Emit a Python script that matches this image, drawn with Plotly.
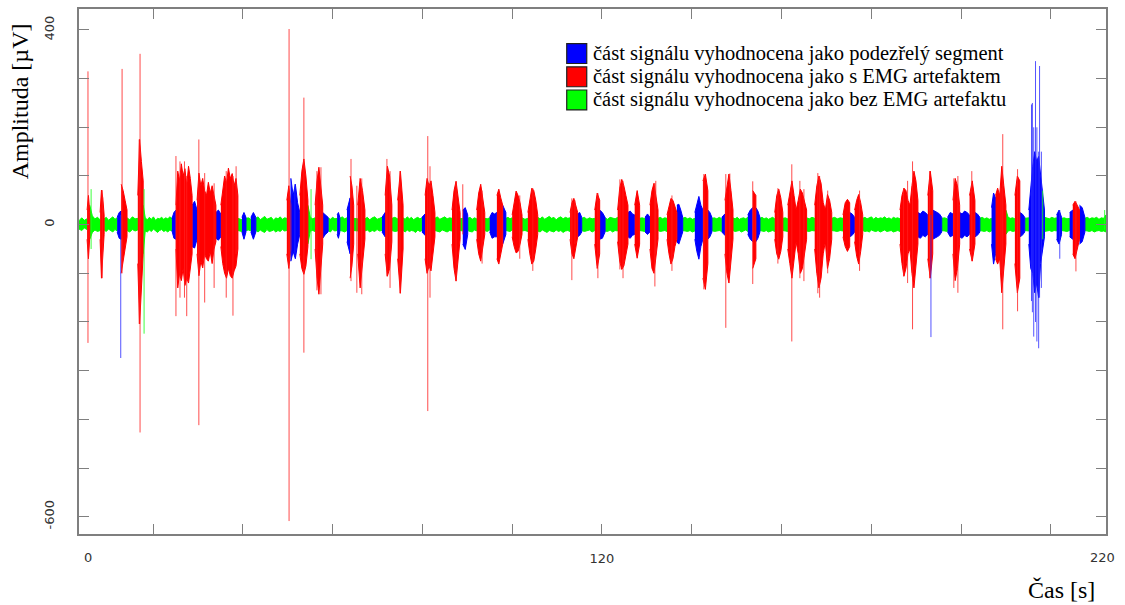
import plotly.graph_objects as go

# ---- data (time in axis units, amplitude in uV) ----
# contiguous signal segments: start time, class, upper / lower envelope of the dense trace
seg_start = [3.5, 5.3, 5.9, 8.2, 9.1, 12.0, 12.9, 14.2, 16.6, 17.8,
             24.2, 25.1, 28.7, 29.8, 34.0, 35.1, 38.9, 39.8, 40.7, 41.8,
             42.9, 49.8, 50.7, 52.7, 54.5, 56.1, 57.8, 59.0, 61.0, 61.6,
             63.2, 63.9, 64.7, 65.6, 67.2, 71.0, 71.7, 73.2, 74.5, 75.7,
             79.9, 80.6, 82.8, 86.6, 88.4, 89.0, 90.1, 92.1, 93.9, 95.0,
             96.6, 97.9, 98.6, 100.0, 102.2, 103.5, 105.7, 112.9, 114.6, 115.5,
             118.4, 119.5, 120.7, 123.5, 125.8, 127.3, 128.4, 129.6, 130.7, 132.5,
             134.5, 136.7, 138.0, 140.7, 142.5, 143.6, 144.5, 146.7, 147.4, 149.2,
             152.5, 153.6, 154.3, 155.2, 158.5, 160.3, 161.4, 165.6, 167.4, 171.2,
             173.7, 175.2, 176.3, 178.1, 186.4, 190.4, 192.6, 193.7, 195.7, 197.0,
             198.2, 199.7, 201.9, 203.1, 204.2, 206.8, 207.7, 210.0, 212.0, 213.1,
             214.2, 215.1, 218.6, 221.3, 222.4, 224.2, 224.9, 226.4, 227.6]
t_end = 232.3

seg_class = ["G", "R", "G", "R", "G", "B", "R", "G", "R", "G",
             "B", "R", "B", "R", "B", "R", "G", "B", "G", "B",
             "G", "R", "B", "R", "G", "R", "B", "G", "B", "G",
             "B", "R", "G", "R", "G", "B", "R", "G", "R", "G",
             "B", "R", "G", "R", "G", "B", "G", "R", "G", "B",
             "R", "B", "G", "R", "G", "R", "G", "R", "B", "G",
             "R", "B", "G", "R", "B", "R", "G", "B", "R", "G",
             "R", "B", "G", "B", "R", "B", "G", "B", "R", "G",
             "B", "R", "B", "G", "R", "G", "R", "G", "R", "G",
             "R", "B", "R", "G", "R", "B", "R", "B", "G", "B",
             "R", "B", "R", "B", "G", "B", "R", "G", "R", "B",
             "G", "B", "G", "B", "G", "B", "R", "B", "G"]

seg_upper = [
    [8, 14, 9, 12], [30, 60, 25], [40, 18, 12, 15, 10], [25, 71, 55, 20],
    [12, 15, 9, 13, 16, 11, 14],
    [15, 25, 28], [83, 70, 50, 30], [14, 10, 16, 12, 13], [60, 175, 130, 90],
    [40, 14, 10, 15, 11, 16, 9, 13, 12, 15, 11, 14, 12, 16, 13],
    [12, 25, 30], [40, 110, 90, 125, 100, 115, 80, 120, 95, 60], [40, 48, 30],
    [50, 106, 80, 95, 70, 60, 87, 65, 80, 55, 40], [25, 30, 22],
    [40, 70, 100, 85, 116, 95, 105, 80, 95, 60],
    [13, 10], [15, 25, 15], [13, 14, 11], [15, 25, 15],
    [13, 16, 10, 14, 17, 11, 13, 15, 9, 14, 12, 16, 11, 14, 13],
    [50, 80, 40], [95, 60, 83, 45, 25], [60, 110, 135, 100, 50], [40, 15, 12, 14],
    [40, 90, 118, 80, 40],
    [25, 20, 15], [14, 11, 15, 12, 13], [20, 25, 15], [13, 16, 12, 14],
    [30, 55], [100, 80, 40], [13, 12], [40, 95, 70, 30], [12, 15, 10, 14, 16, 11, 13, 15],
    [15, 25], [60, 120, 100, 40], [13, 15, 12], [50, 110, 40],
    [14, 11, 16, 12, 15, 10, 13, 15, 12, 14],
    [15, 22], [60, 95, 80, 90, 60, 25], [13, 16, 11, 14, 16, 12, 14, 13],
    [30, 70, 89, 60, 25], [12, 13],
    [30, 35, 20], [13, 15, 11, 14, 12], [30, 65, 83, 55, 25], [13, 12, 14], [15, 25, 22, 25],
    [60, 73, 55, 40], [40, 25], [13, 15, 12, 14], [20, 50, 69, 60, 45, 20], [14, 11, 13],
    [25, 55, 75, 70, 50, 20],
    [15, 12, 16, 11, 14, 17, 13, 15, 10, 14, 16, 12, 15, 13, 14],
    [25, 45, 54, 40, 25], [22, 25, 15], [13, 15, 11, 14, 12, 13],
    [30, 65, 50], [30, 25, 15], [14, 11, 15, 13, 12, 15], [30, 75, 93, 80, 60, 40],
    [25, 28, 22, 20],
    [40, 70, 40], [13, 14, 12], [15, 22, 15], [40, 70, 85, 60, 30], [13, 15, 12, 14, 13],
    [20, 40, 54, 50, 35, 25], [40, 42, 30, 15], [13, 15, 12, 14, 11, 13],
    [25, 45, 58, 40, 30], [90, 104, 70],
    [30, 25, 15], [13, 14, 12, 15, 12], [15, 22], [50, 80, 104, 70, 30],
    [14, 12, 15, 11, 13, 14, 12, 15],
    [20, 30, 35], [70, 60], [35, 28, 15], [13, 15, 12, 14, 11, 13, 15, 12],
    [25, 60, 73, 55, 25],
    [13, 14, 12], [40, 70, 90, 60, 30, 50, 73, 65, 50, 30], [14, 12, 15, 13],
    [40, 80, 100, 85, 45, 30, 62, 50, 25], [13, 15, 12, 14, 13],
    [20, 45, 52, 45], [25, 22, 15], [30, 50, 62, 45, 20],
    [13, 15, 12, 14, 16, 11, 15, 12, 14, 13, 16, 12, 14, 11, 15, 13, 14, 12],
    [30, 60, 75, 70, 50, 40, 80, 110, 90, 50], [25, 22, 28, 25, 20], [60, 110, 70],
    [30, 28, 25, 22, 15], [13, 14, 12], [15, 25, 22],
    [50, 95, 80, 40], [25, 22, 28, 25, 20], [60, 90, 50], [25, 22, 15], [13, 15, 12, 14, 11, 13],
    [35, 65, 55], [60, 75, 60, 120, 80, 40], [30, 15, 13, 14, 12], [60, 100, 90], [25, 22, 15],
    [13, 14], [30, 80, 120, 150, 130, 140, 100, 60, 30], [15, 14, 12, 15, 13, 14], [20, 30, 15],
    [13, 14, 12, 13],
    [25, 30], [40, 48, 40, 30], [40, 35, 15], [13, 15, 12, 14, 13, 15, 11, 14, 13, 20],
]

seg_lower = [
    [-9, -12, -7, -10], [-30, -70, -25], [-30, -16, -11, -14, -12], [-30, -110, -70, -20],
    [-11, -14, -9, -12, -15, -10, -13],
    [-15, -28, -30], [-100, -80, -50, -25], [-12, -15, -10, -13, -11], [-80, -204, -120, -60],
    [-60, -13, -15, -11, -14, -9, -13, -16, -12, -10, -14, -12, -15, -11, -13],
    [-12, -28, -30], [-50, -130, -100, -115, -90, -125, -110, -120, -85, -60], [-45, -48, -30],
    [-60, -105, -75, -89, -60, -70, -75, -55, -80, -50, -35], [-28, -32, -25],
    [-45, -80, -100, -110, -90, -105, -110, -95, -85, -50],
    [-12, -14], [-15, -30, -15], [-12, -11, -13], [-15, -30, -15],
    [-12, -15, -11, -14, -16, -10, -14, -13, -11, -15, -12, -14, -10, -13, -12],
    [-60, -90, -50], [-75, -55, -70, -40, -20], [-60, -90, -102, -85, -45], [-40, -13, -12, -14],
    [-50, -110, -143, -90, -40],
    [-28, -20, -15], [-12, -15, -10, -13, -12], [-20, -28, -15], [-12, -13, -15, -12],
    [-35, -60], [-110, -85, -40], [-12, -13], [-60, -130, -80, -30],
    [-13, -11, -15, -12, -14, -10, -13, -12],
    [-15, -25], [-60, -106, -90, -35], [-12, -14, -13], [-70, -141, -50],
    [-12, -15, -11, -14, -12, -13, -16, -11, -14, -12],
    [-15, -22], [-70, -100, -85, -95, -60, -25], [-12, -14, -15, -11, -13, -15, -12, -13],
    [-40, -90, -116, -70, -30], [-12, -13],
    [-40, -51, -20], [-12, -14, -15, -11, -13], [-30, -60, -75, -50, -20], [-12, -14, -11],
    [-15, -28, -25, -25],
    [-70, -81, -60, -40], [-40, -20], [-12, -13, -14, -11], [-25, -45, -58, -55, -40, -20],
    [-13, -12, -14],
    [-30, -60, -81, -75, -50, -20],
    [-13, -15, -11, -14, -16, -12, -13, -15, -11, -14, -12, -16, -13, -12, -14],
    [-30, -60, -70, -45, -25], [-25, -22, -15], [-12, -14, -13, -11, -15, -12],
    [-40, -90, -60], [-30, -28, -15], [-13, -14, -11, -15, -12, -13], [-35, -75, -92, -85, -60, -40],
    [-25, -28, -22, -20],
    [-40, -69, -40], [-12, -13, -14], [-15, -20, -15], [-50, -90, -100, -70, -30],
    [-12, -14, -13, -12, -14],
    [-30, -60, -81, -70, -45, -30], [-35, -40, -30, -15], [-12, -13, -14, -12, -15, -13],
    [-30, -55, -71, -45, -30], [-110, -133, -80],
    [-30, -25, -15], [-12, -14, -13, -12, -14], [-15, -22], [-60, -100, -120, -80, -30],
    [-12, -14, -13, -12, -15, -13, -11, -14],
    [-20, -30, -35], [-90, -70], [-35, -28, -15], [-12, -13, -14, -12, -15, -13, -12, -14],
    [-30, -60, -71, -55, -25],
    [-12, -13, -14], [-50, -80, -110, -70, -35, -60, -100, -90, -60, -30], [-13, -14, -12, -13],
    [-50, -100, -130, -110, -60, -35, -90, -70, -30], [-12, -13, -14, -12, -13],
    [-25, -45, -55, -45], [-25, -22, -15], [-35, -65, -81, -55, -20],
    [-12, -14, -13, -15, -11, -13, -14, -12, -15, -13, -11, -14, -13, -12, -15, -13, -12, -14],
    [-40, -80, -106, -90, -60, -50, -100, -130, -90, -40], [-25, -28, -22, -25, -20],
    [-70, -110, -60],
    [-30, -28, -25, -22, -15], [-12, -13, -14], [-15, -25, -22],
    [-60, -115, -90, -40], [-25, -28, -22, -25, -20], [-50, -75, -40], [-25, -22, -15],
    [-12, -13, -14, -12, -15, -13],
    [-40, -81, -60], [-70, -81, -70, -140, -90, -40], [-20, -13, -12, -14, -13], [-80, -140, -110],
    [-25, -22, -15],
    [-12, -13], [-40, -90, -100, -140, -120, -150, -80, -50, -25], [-14, -13, -12, -14, -12, -13],
    [-30, -40, -20], [-12, -13, -14, -12],
    [-25, -30], [-60, -70, -50, -30], [-40, -35, -15], [-12, -13, -14, -12, -15, -13, -12, -14, -13, -15],
]

# isolated thin spikes: time, class, maximum, minimum
spike_t = [5.5, 6.2, 8.7, 12.8, 13.1, 16.9, 17.1, 18.0, 25.1, 26.0,
           27.0, 27.5, 30.2, 31.5, 33.6, 36.3, 37.8, 38.5, 50.3, 50.7,
           51.6, 53.6, 55.2, 56.5, 57.4, 64.1, 65.4, 66.5, 72.1, 72.8,
           75.0, 81.2, 81.7, 87.5, 89.0, 93.3, 101.7, 104.6, 113.3, 114.0,
           119.1, 124.0, 124.7, 131.8, 132.0, 135.6, 142.7, 147.6, 148.5, 153.6,
           159.2, 162.3, 164.1, 165.0, 168.1, 168.5, 170.3, 177.4, 187.2, 188.1,
           189.2, 193.0, 193.3, 198.4, 199.3, 202.4, 208.9, 209.3, 212.6, 215.7,
           215.9, 216.2, 216.6, 216.9, 217.3, 217.5, 217.9, 218.2, 222.0, 225.6,
           232.0]
spike_class = ["R", "G", "R", "B", "R", "R", "R", "G", "R", "R",
               "R", "R", "R", "R", "R", "R", "R", "R", "R", "B",
               "B", "R", "G", "R", "R", "R", "R", "R", "R", "R",
               "R", "R", "R", "R", "R", "R", "R", "R", "R", "R",
               "R", "R", "R", "R", "R", "R", "R", "R", "R", "R",
               "R", "R", "R", "R", "R", "R", "R", "R", "R", "R",
               "R", "R", "B", "R", "R", "R", "R", "R", "R", "B",
               "B", "B", "B", "B", "B", "B", "B", "G", "B", "R",
               "G"]
spike_hi = [315, 73, 71, 20, 320, 175, 351, 73, 141, 130,
            130, 100, 175, 106, 85, 110, 100, 120, 402, 95,
            83, 261, 73, 110, 118, 135, 80, 95, 135, 110,
            110, 182, 120, 89, 83, 70, 60, 75, 54, 50,
            65, 93, 90, 85, 90, 60, 104, 104, 105, 89,
            75, 124, 90, 73, 106, 100, 70, 70, 75, 90,
            130, 110, 20, 95, 100, 110, 75, 186, 114, 247,
            250, 200, 336, 200, 150, 326, 150, 70, 30, 48,
            30]
spike_lo = [-243, -50, -110, -274, -100, -204, -427, -224, -188, -150,
            -150, -188, -412, -160, -130, -150, -187, -60, -609, -75,
            -60, -263, -71, -135, -143, -116, -140, -143, -106, -130,
            -141, -383, -150, -116, -20, -80, -70, -95, -114, -40,
            -110, -92, -110, -127, -60, -95, -133, -212, -90, -122,
            -80, -240, -110, -116, -141, -150, -100, -95, -106, -120,
            -215, -110, -231, -130, -140, -75, -100, -215, -178, -157,
            -180, -230, -200, -240, -254, -150, -130, -30, -70, -96,
            -10]

x_ticks = [20, 40, 60, 80, 100, 120, 140, 160, 180, 200, 220]
x_ticktext = ["", "", "", "", "", "120", "", "", "", "", ""]
y_ticks = [-600, -500, -400, -300, -200, -100, 0, 100, 200, 300, 400]
y_ticktext = ["-600", "", "", "", "", "", "0", "", "", "", "400"]

legend_order = ["B", "R", "G"]
class_names = {
    "B": "část signálu vyhodnocena jako podezřelý segment",
    "R": "část signálu vyhodnocena jako s EMG artefaktem",
    "G": "část signálu vyhodnocena jako bez EMG artefaktu",
}
class_colors = {"B": "#0000ff", "R": "#ff0000", "G": "#00ff00"}
spike_colors = {"B": "rgba(40,40,255,0.8)", "R": "rgba(255,30,30,0.8)", "G": "rgba(30,255,30,0.85)"}

# ---- build per-class filled envelopes and spike lines ----
fx = {c: [] for c in "GBR"}
fy = {c: [] for c in "GBR"}
for i, (s, c, up, lo) in enumerate(zip(seg_start, seg_class, seg_upper, seg_lower)):
    e = seg_start[i + 1] if i + 1 < len(seg_start) else t_end
    tu = [s + k * (e - s) / (len(up) - 1) for k in range(len(up))]
    tl = [s + k * (e - s) / (len(lo) - 1) for k in range(len(lo))]
    fx[c] += tu + tl[::-1] + [None]
    fy[c] += list(up) + list(lo)[::-1] + [None]

sx = {c: [] for c in "GBR"}
sy = {c: [] for c in "GBR"}
for t, c, hi, lo in zip(spike_t, spike_class, spike_hi, spike_lo):
    sx[c] += [t, t, None]
    sy[c] += [hi, lo, None]

fig = go.Figure()
for c in "GBR":
    fig.add_trace(go.Scatter(
        x=fx[c], y=fy[c], mode="lines", fill="toself", fillcolor=class_colors[c],
        name=class_names[c], legendgroup=c, showlegend=False, hoverinfo="skip",
        line=dict(color=class_colors[c], width=1)))
for c in "GBR":
    fig.add_trace(go.Scatter(
        x=sx[c], y=sy[c], mode="lines", name=class_names[c], legendgroup=c,
        showlegend=False, hoverinfo="skip", line=dict(color=spike_colors[c], width=1)))

axis_common = dict(showgrid=False, zeroline=False, showline=True, linecolor="#7f7f7f",
                   linewidth=1.5, ticks="inside", ticklen=10, tickcolor="#7f7f7f",
                   tickwidth=1, mirror="ticks",
                   tickfont=dict(family="DejaVu Sans", size=13, color="#333333"))
fig.update_xaxes(range=[3.5, 232.3], tickmode="array", tickvals=x_ticks,
                 ticktext=x_ticktext, ticklabelstandoff=12, **axis_common)
fig.update_yaxes(range=[-635.6, 443.1], tickmode="array", tickvals=y_ticks,
                 ticktext=y_ticktext, tickangle=-90, ticklabelstandoff=18, **axis_common)

tick_font = dict(family="DejaVu Sans", size=13, color="#333333")
fig.add_annotation(text="0", xref="x", yref="paper", x=5.5, y=-0.044, showarrow=False,
                   xanchor="center", yanchor="middle", font=tick_font)
fig.add_annotation(text="220", xref="x", yref="paper", x=231.6, y=-0.044, showarrow=False,
                   xanchor="center", yanchor="middle", font=tick_font)
fig.add_annotation(text="Amplituda [µV]", xref="paper", yref="paper", x=-0.058, y=0.825,
                   textangle=-90, showarrow=False, xanchor="center", yanchor="middle",
                   font=dict(family="Liberation Serif", size=24, color="#000000"))
fig.add_annotation(text="Čas [s]", xref="paper", yref="paper", x=0.957, y=-0.107,
                   showarrow=False, xanchor="center", yanchor="middle",
                   font=dict(family="Liberation Serif", size=24, color="#000000"))

# legend drawn as coloured boxes with labels (box 20 px, rows 23.3 px apart)
box_x0, box_x1 = 0.4749, 0.4944
row_top = [0.9342, 0.8899, 0.8457]
box_h = 0.0380
for c, top in zip(legend_order, row_top):
    fig.add_shape(type="rect", xref="paper", yref="paper", x0=box_x0, x1=box_x1,
                  y0=top - box_h, y1=top, fillcolor=class_colors[c],
                  line=dict(color="#202020", width=1.2))
    fig.add_annotation(text=class_names[c], xref="paper", yref="paper", x=0.4985,
                       y=top - box_h / 2, xanchor="left", yanchor="middle", showarrow=False,
                       font=dict(family="Liberation Serif", size=20.5, color="#000000"))

fig.update_layout(
    width=1125, height=605,
    margin=dict(l=79, r=19, t=7, b=71),
    paper_bgcolor="white", plot_bgcolor="white",
    showlegend=False,
)

fig.write_html("out.html")
